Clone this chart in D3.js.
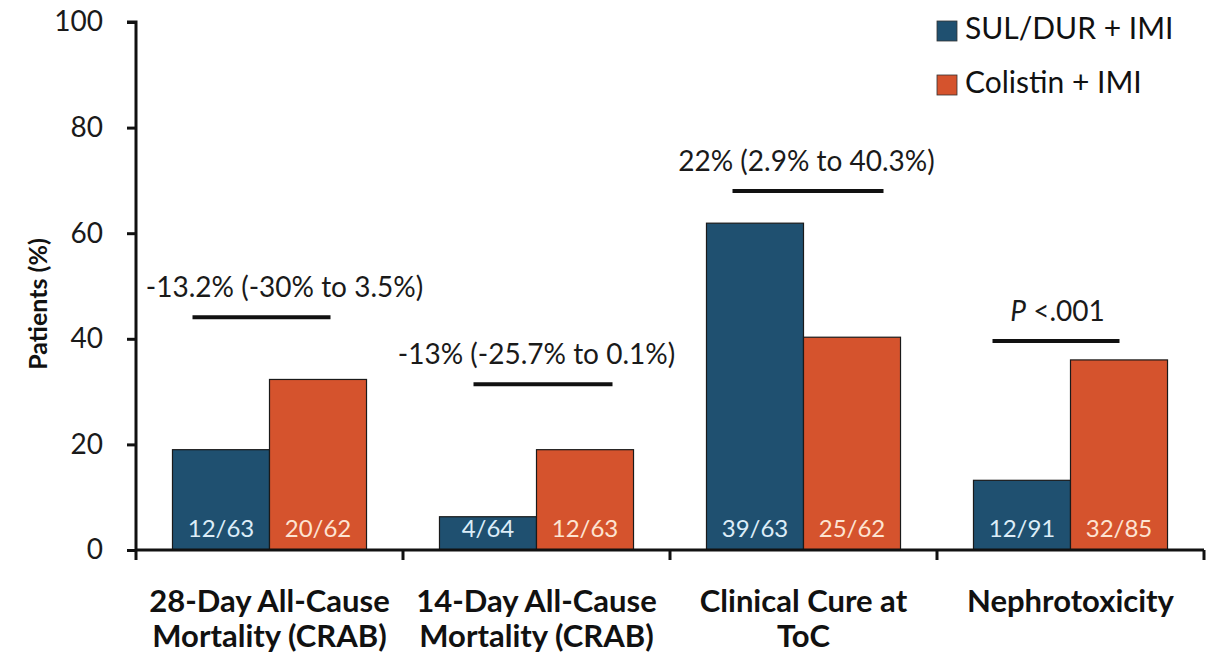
<!DOCTYPE html>
<html>
<head>
<meta charset="utf-8">
<script src="https://cdn.jsdelivr.net/npm/d3@7"></script>
<style>
  html, body { margin: 0; padding: 0; background: #ffffff; }
  svg { display: block; font-family: Lato, "Noto Sans", sans-serif; }
</style>
</head>
<body>
<svg id="chart" width="1206" height="658"></svg>
<script>
// Outcome categories (each label split into lines)
const categories = ["28-Day All-Cause Mortality (CRAB)", "14-Day All-Cause Mortality (CRAB)", "Clinical Cure at ToC", "Nephrotoxicity"];
const categoryLines = [
  ["28-Day All-Cause", "Mortality (CRAB)"],
  ["14-Day All-Cause", "Mortality (CRAB)"],
  ["Clinical Cure at", "ToC"],
  ["Nephrotoxicity"]
];

// Treatment arms
const seriesNames = ["SUL/DUR + IMI", "Colistin + IMI"];

// Percent of patients per arm
const sulDurValues = [19.0, 6.3, 61.9, 13.2];
const colistinValues = [32.3, 19.0, 40.3, 36.0];

// n/N counts printed inside the bars
const sulDurCounts = ["12/63", "4/64", "39/63", "12/91"];
const colistinCounts = ["20/62", "12/63", "25/62", "32/85"];

// Treatment difference annotations and the bar heights (%) they sit at
const diffLabels = ["-13.2% (-30% to 3.5%)", "-13% (-25.7% to 0.1%)", "22% (2.9% to 40.3%)", "P <.001"];
const diffLevels = [44.1, 31.4, 68.0, 39.6];

// Y axis ticks
const yTicks = [0, 20, 40, 60, 80, 100];

const colors = { "SUL/DUR + IMI": "#1f5070", "Colistin + IMI": "#d5532d" };
const countColors = { "SUL/DUR + IMI": "#dcedf8", "Colistin + IMI": "#fde4d2" };

// Horizontal placement of each difference bracket relative to its category centre
const diffLayout = [
  { x1: -77, x2: 61, tx: 15 },
  { x1: -63, x2: 76, tx: 0 },
  { x1: -71, x2: 80, tx: 3 },
  { x1: -78, x2: 49, tx: -13 }
];

const svg = d3.select("#chart");
const margin = { left: 136, right: 2, top: 22, bottom: 108 };
const W = 1206, H = 658;

const x0 = d3.scaleBand().domain(categories).range([margin.left, W - margin.right]).paddingInner(0).paddingOuter(0);
const x1 = d3.scaleBand().domain(seriesNames).range([0, x0.bandwidth()]).paddingInner(0).paddingOuter(0.376);
const y = d3.scaleLinear().domain([0, 100]).range([H - margin.bottom, margin.top]);

const rows = categories.map((c, i) => ({
  cat: c,
  bars: [
    { s: seriesNames[0], v: sulDurValues[i], n: sulDurCounts[i] },
    { s: seriesNames[1], v: colistinValues[i], n: colistinCounts[i] }
  ]
}));

// Bars
const groups = svg.append("g").selectAll("g").data(rows).join("g")
  .attr("transform", d => `translate(${x0(d.cat)},0)`);

groups.selectAll("rect").data(d => d.bars).join("rect")
  .attr("x", d => x1(d.s))
  .attr("y", d => y(d.v))
  .attr("width", x1.bandwidth())
  .attr("height", d => y(0) - y(d.v))
  .attr("fill", d => colors[d.s])
  .attr("stroke", "#1a1a1a")
  .attr("stroke-width", 1.2);

groups.selectAll("text.count").data(d => d.bars).join("text")
  .attr("class", "count")
  .attr("x", d => x1(d.s) + x1.bandwidth() / 2)
  .attr("y", y(0) - 13)
  .attr("text-anchor", "middle")
  .attr("font-size", 24)
  .attr("fill", d => countColors[d.s])
  .text(d => d.n);

// Y axis
const yAxis = d3.axisLeft(y).tickValues(yTicks).tickSize(9).tickPadding(24).tickFormat(d3.format("d"));
const gy = svg.append("g").attr("transform", `translate(${margin.left},0)`).call(yAxis);
gy.select(".domain").attr("stroke", "#111").attr("stroke-width", 3)
  .attr("d", `M-9,${y(100)}H0V${y(0) + 10}`);
gy.selectAll(".tick line").attr("stroke", "#111").attr("stroke-width", 3);
gy.selectAll(".tick text").attr("font-size", 28).attr("fill", "#1a1a1a")
  .attr("font-family", "Lato, 'Noto Sans', sans-serif");

// X axis with boundary ticks between categories
const boundaries = categories.map(c => x0(c)).concat([x0(categories[categories.length - 1]) + x0.bandwidth()]);
const gx = svg.append("g");
gx.append("line")
  .attr("x1", margin.left).attr("x2", boundaries[boundaries.length - 1])
  .attr("y1", y(0)).attr("y2", y(0))
  .attr("stroke", "#111").attr("stroke-width", 3);
gx.selectAll("line.btick").data(boundaries.slice(1)).join("line")
  .attr("class", "btick")
  .attr("x1", d => d).attr("x2", d => d)
  .attr("y1", y(0)).attr("y2", y(0) + 10)
  .attr("stroke", "#111").attr("stroke-width", 3);

// Category labels
const catText = svg.append("g").selectAll("text").data(categories).join("text")
  .attr("x", d => x0(d) + x0.bandwidth() / 2)
  .attr("y", 612)
  .attr("text-anchor", "middle")
  .attr("font-size", 31)
  .attr("font-weight", 700)
  .attr("fill", "#111");
catText.selectAll("tspan").data((d, i) => categoryLines[i]).join("tspan")
  .attr("x", function () { return d3.select(this.parentNode).attr("x"); })
  .attr("dy", (d, i) => i === 0 ? 0 : 35)
  .text(d => d);

// Y axis title
svg.append("text")
  .attr("transform", `translate(37,304) rotate(-90)`)
  .attr("text-anchor", "middle")
  .attr("dominant-baseline", "central")
  .attr("font-size", 25)
  .attr("font-weight", 700)
  .attr("fill", "#111")
  .text("Patients (%)");

// Difference brackets and labels
const diffs = svg.append("g").selectAll("g").data(categories).join("g");
diffs.append("line")
  .attr("x1", (d, i) => x0(d) + x0.bandwidth() / 2 + diffLayout[i].x1)
  .attr("x2", (d, i) => x0(d) + x0.bandwidth() / 2 + diffLayout[i].x2)
  .attr("y1", (d, i) => y(diffLevels[i]))
  .attr("y2", (d, i) => y(diffLevels[i]))
  .attr("stroke", "#111").attr("stroke-width", 4);
const dText = diffs.append("text")
  .attr("x", (d, i) => x0(d) + x0.bandwidth() / 2 + diffLayout[i].tx)
  .attr("y", (d, i) => y(diffLevels[i]) - 20)
  .attr("text-anchor", "middle")
  .attr("font-size", 28)
  .attr("fill", "#1a1a1a");
dText.each(function (d, i) {
  const t = d3.select(this);
  const label = diffLabels[i];
  if (label.startsWith("P ")) {
    t.append("tspan").attr("font-style", "italic").text("P");
    t.append("tspan").text(label.slice(1));
  } else {
    t.text(label);
  }
});

// Legend
const legend = svg.append("g").selectAll("g").data(seriesNames).join("g")
  .attr("transform", (d, i) => `translate(937,${21 + i * 54})`);
legend.append("rect")
  .attr("width", 20).attr("height", 20)
  .attr("fill", d => colors[d])
  .attr("stroke", "#333").attr("stroke-width", 0.8);
legend.append("text")
  .attr("x", 28).attr("y", 18)
  .attr("font-size", 30)
  .attr("fill", "#111")
  .text(d => d);
</script>
</body>
</html>
